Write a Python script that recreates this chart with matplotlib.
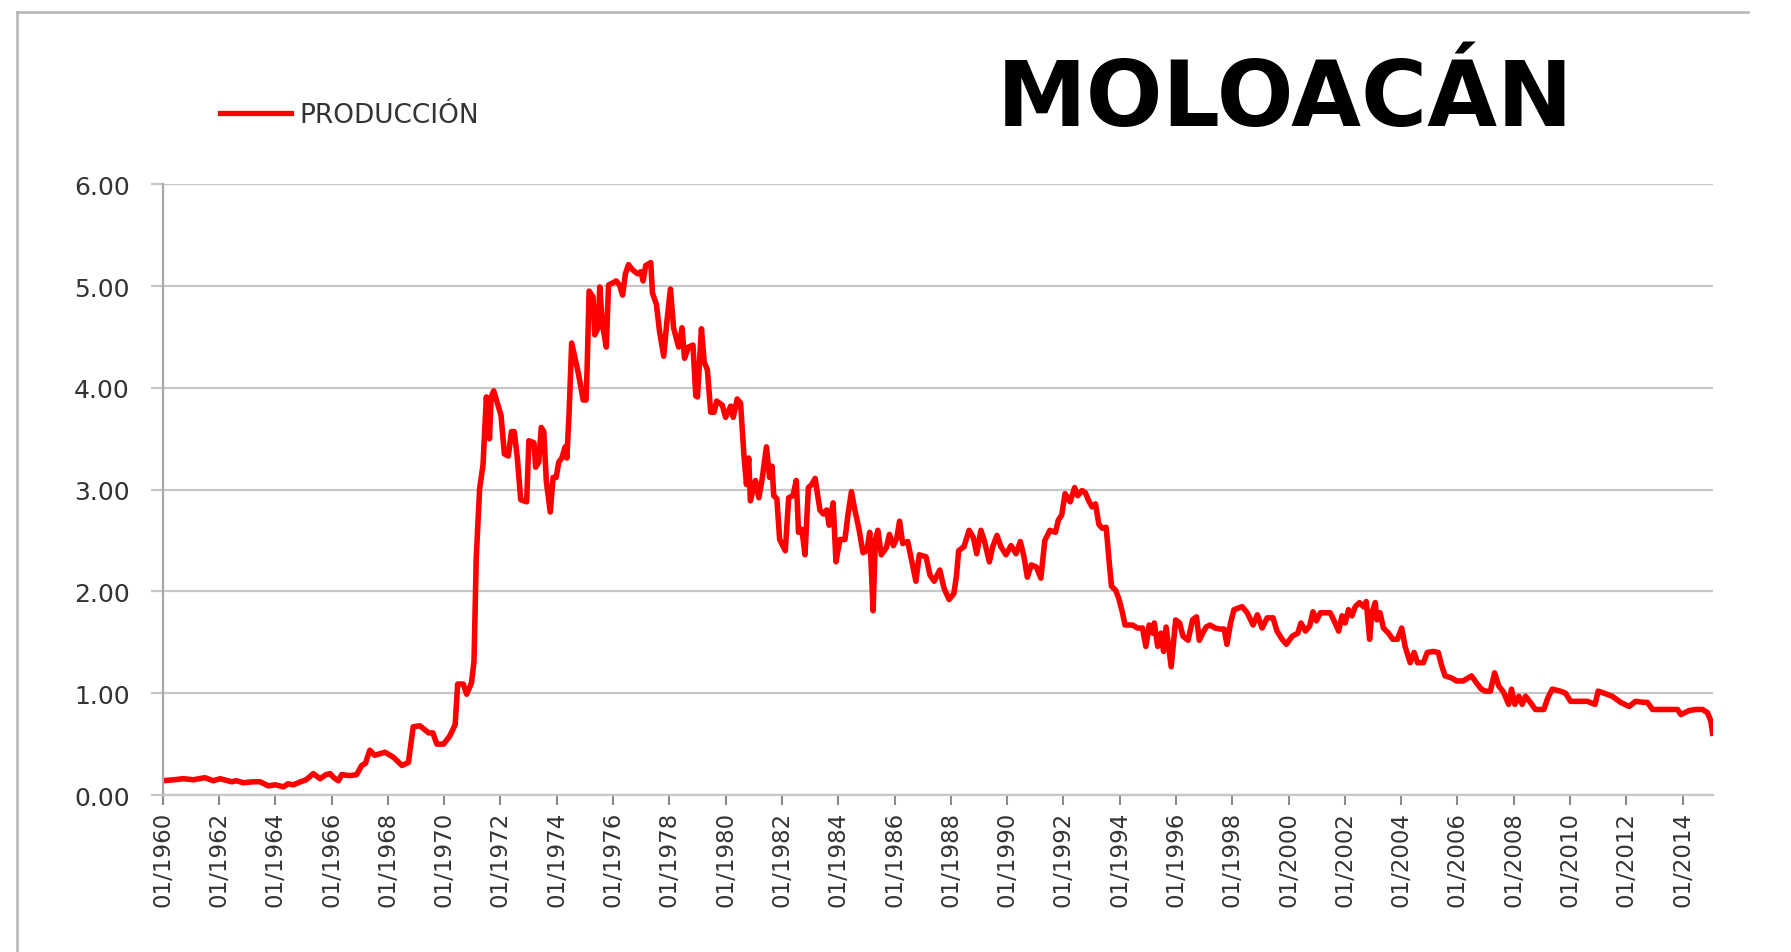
import matplotlib
matplotlib.use("Agg")
import matplotlib.pyplot as plt
from matplotlib.lines import Line2D

# ---------------- data ----------------
fecha = [
    1960.00, 1960.40, 1960.73, 1961.09, 1961.50, 1961.80, 1962.04, 1962.45, 1962.62, 1962.87,
    1963.22, 1963.46, 1963.75, 1964.00, 1964.29, 1964.45, 1964.64, 1964.90, 1965.10, 1965.35,
    1965.59, 1965.80, 1965.95, 1966.08, 1966.24, 1966.36, 1966.65, 1966.89, 1967.07, 1967.20,
    1967.36, 1967.53, 1967.90, 1968.20, 1968.50, 1968.73, 1968.90, 1969.14, 1969.45, 1969.60,
    1969.74, 1969.98, 1970.20, 1970.39, 1970.48, 1970.68, 1970.80, 1970.97, 1971.06, 1971.14,
    1971.26, 1971.38, 1971.50, 1971.61, 1971.67, 1971.76, 1971.90, 1972.02, 1972.14, 1972.28,
    1972.39, 1972.49, 1972.60, 1972.72, 1972.93, 1973.01, 1973.19, 1973.25, 1973.36, 1973.45,
    1973.54, 1973.63, 1973.77, 1973.87, 1973.98, 1974.07, 1974.18, 1974.30, 1974.36, 1974.44,
    1974.53, 1974.65, 1974.77, 1974.94, 1975.04, 1975.08, 1975.15, 1975.29, 1975.35, 1975.47,
    1975.53, 1975.62, 1975.76, 1975.84, 1975.99, 1976.11, 1976.23, 1976.34, 1976.44, 1976.55,
    1976.69, 1976.87, 1976.99, 1977.07, 1977.16, 1977.34, 1977.40, 1977.54, 1977.65, 1977.80,
    1977.92, 1978.04, 1978.15, 1978.33, 1978.45, 1978.54, 1978.68, 1978.84, 1978.94, 1979.00,
    1979.14, 1979.24, 1979.35, 1979.47, 1979.59, 1979.68, 1979.88, 1980.00, 1980.18, 1980.27,
    1980.41, 1980.53, 1980.65, 1980.74, 1980.82, 1980.88, 1981.06, 1981.18, 1981.29, 1981.45,
    1981.56, 1981.65, 1981.71, 1981.82, 1981.92, 1982.12, 1982.24, 1982.39, 1982.51, 1982.59,
    1982.71, 1982.82, 1982.94, 1983.06, 1983.18, 1983.35, 1983.47, 1983.59, 1983.68, 1983.82,
    1983.92, 1984.06, 1984.24, 1984.35, 1984.47, 1984.59, 1984.74, 1984.88, 1985.02, 1985.12,
    1985.24, 1985.32, 1985.41, 1985.53, 1985.71, 1985.82, 1985.96, 1986.08, 1986.18, 1986.29,
    1986.47, 1986.62, 1986.76, 1986.88, 1987.12, 1987.26, 1987.41, 1987.61, 1987.76, 1987.94,
    1988.11, 1988.20, 1988.28, 1988.47, 1988.65, 1988.80, 1988.92, 1989.07, 1989.19, 1989.37,
    1989.49, 1989.64, 1989.78, 1989.96, 1990.14, 1990.32, 1990.47, 1990.60, 1990.72, 1990.86,
    1991.04, 1991.20, 1991.34, 1991.52, 1991.72, 1991.82, 1991.94, 1992.06, 1992.24, 1992.40,
    1992.51, 1992.66, 1992.78, 1992.90, 1993.02, 1993.14, 1993.26, 1993.38, 1993.52, 1993.62,
    1993.71, 1993.86, 1993.98, 1994.10, 1994.19, 1994.46, 1994.63, 1994.81, 1994.93, 1995.05,
    1995.17, 1995.23, 1995.35, 1995.47, 1995.56, 1995.65, 1995.83, 1995.99, 1996.13, 1996.25,
    1996.43, 1996.59, 1996.73, 1996.83, 1996.95, 1997.07, 1997.21, 1997.39, 1997.57, 1997.71,
    1997.81, 1997.94, 1998.06, 1998.35, 1998.53, 1998.74, 1998.89, 1999.06, 1999.24, 1999.45,
    1999.59, 1999.77, 1999.92, 2000.13, 2000.33, 2000.44, 2000.60, 2000.75, 2000.87, 2000.99,
    2001.13, 2001.31, 2001.48, 2001.62, 2001.78, 2001.90, 2002.01, 2002.13, 2002.25, 2002.37,
    2002.52, 2002.66, 2002.76, 2002.88, 2002.96, 2003.08, 2003.14, 2003.25, 2003.37, 2003.55,
    2003.70, 2003.87, 2004.02, 2004.14, 2004.32, 2004.46, 2004.58, 2004.79, 2004.93, 2005.14,
    2005.32, 2005.44, 2005.56, 2005.79, 2005.97, 2006.20, 2006.50, 2006.68, 2006.85, 2006.99,
    2007.17, 2007.32, 2007.47, 2007.64, 2007.82, 2007.92, 2008.04, 2008.18, 2008.30, 2008.42,
    2008.59, 2008.77, 2009.07, 2009.22, 2009.37, 2009.66, 2009.84, 2010.02, 2010.32, 2010.62,
    2010.89, 2011.00, 2011.21, 2011.50, 2011.80, 2012.10, 2012.33, 2012.63, 2012.75, 2012.93,
    2013.29, 2013.64, 2013.82, 2013.94, 2014.24, 2014.47, 2014.71, 2014.88, 2015.00, 2015.08,
]

produccion = [
    0.14, 0.15, 0.16, 0.15, 0.17, 0.14, 0.16, 0.13, 0.14, 0.12,
    0.13, 0.13, 0.09, 0.10, 0.08, 0.11, 0.10, 0.13, 0.15, 0.21,
    0.16, 0.20, 0.21, 0.17, 0.14, 0.20, 0.19, 0.20, 0.29, 0.31,
    0.44, 0.39, 0.42, 0.37, 0.29, 0.32, 0.67, 0.68, 0.61, 0.61,
    0.50, 0.50, 0.58, 0.69, 1.09, 1.09, 0.99, 1.10, 1.31, 2.33,
    3.01, 3.24, 3.91, 3.50, 3.91, 3.97, 3.84, 3.73, 3.35, 3.33,
    3.57, 3.57, 3.31, 2.90, 2.88, 3.48, 3.46, 3.22, 3.27, 3.61,
    3.57, 3.08, 2.78, 3.12, 3.12, 3.27, 3.31, 3.42, 3.31, 3.76,
    4.44, 4.29, 4.14, 3.88, 3.88, 4.20, 4.95, 4.89, 4.52, 4.59,
    4.99, 4.63, 4.40, 5.01, 5.03, 5.05, 5.01, 4.91, 5.12, 5.21,
    5.16, 5.12, 5.14, 5.05, 5.20, 5.23, 4.93, 4.82, 4.56, 4.31,
    4.67, 4.97, 4.59, 4.40, 4.59, 4.29, 4.40, 4.42, 3.92, 3.91,
    4.58, 4.25, 4.18, 3.76, 3.76, 3.87, 3.83, 3.71, 3.82, 3.71,
    3.89, 3.85, 3.34, 3.05, 3.31, 2.89, 3.09, 2.92, 3.09, 3.42,
    3.12, 3.23, 2.94, 2.91, 2.51, 2.40, 2.92, 2.94, 3.09, 2.58,
    2.61, 2.36, 3.02, 3.05, 3.11, 2.80, 2.76, 2.80, 2.65, 2.87,
    2.29, 2.51, 2.51, 2.76, 2.98, 2.80, 2.61, 2.38, 2.40, 2.58,
    1.81, 2.51, 2.60, 2.36, 2.43, 2.56, 2.45, 2.52, 2.69, 2.47,
    2.49, 2.29, 2.10, 2.36, 2.34, 2.16, 2.10, 2.21, 2.03, 1.92,
    1.98, 2.15, 2.40, 2.44, 2.60, 2.53, 2.37, 2.60, 2.50, 2.29,
    2.44, 2.55, 2.44, 2.36, 2.45, 2.37, 2.49, 2.34, 2.14, 2.26,
    2.24, 2.13, 2.50, 2.60, 2.58, 2.70, 2.75, 2.96, 2.88, 3.02,
    2.94, 2.99, 2.97, 2.89, 2.83, 2.86, 2.66, 2.62, 2.63, 2.31,
    2.05, 2.01, 1.92, 1.79, 1.67, 1.67, 1.64, 1.64, 1.46, 1.67,
    1.59, 1.69, 1.46, 1.59, 1.41, 1.65, 1.26, 1.72, 1.69, 1.56,
    1.52, 1.72, 1.75, 1.52, 1.59, 1.65, 1.67, 1.64, 1.63, 1.63,
    1.48, 1.69, 1.82, 1.85, 1.79, 1.67, 1.77, 1.64, 1.74, 1.74,
    1.61, 1.53, 1.48, 1.56, 1.59, 1.69, 1.61, 1.66, 1.80, 1.71,
    1.79, 1.79, 1.79, 1.71, 1.61, 1.76, 1.69, 1.82, 1.76, 1.85,
    1.89, 1.85, 1.90, 1.53, 1.79, 1.89, 1.72, 1.79, 1.64, 1.59,
    1.53, 1.53, 1.64, 1.46, 1.30, 1.40, 1.30, 1.30, 1.40, 1.41,
    1.40, 1.27, 1.17, 1.15, 1.12, 1.12, 1.17, 1.10, 1.04, 1.02,
    1.02, 1.20, 1.07, 1.01, 0.89, 1.04, 0.89, 0.97, 0.89, 0.97,
    0.91, 0.84, 0.84, 0.96, 1.04, 1.02, 1.00, 0.92, 0.92, 0.92,
    0.89, 1.02, 1.00, 0.97, 0.91, 0.87, 0.92, 0.91, 0.91, 0.84,
    0.84, 0.84, 0.84, 0.79, 0.83, 0.84, 0.84, 0.81, 0.73, 0.58,
]

anios_ticks = list(range(1960, 2015, 2))
etiquetas_x = [f"01/{a}" for a in anios_ticks]
valores_y = [0, 1, 2, 3, 4, 5, 6]
etiquetas_y = [f"{v:.2f}" for v in valores_y]
titulo = "MOLOACÁN"
serie = "PRODUCCIÓN"

# ---------------- figure ----------------
W, H = 1791, 953
fig = plt.figure(figsize=(W / 100, H / 100), dpi=100)
fig.patch.set_facecolor("white")

x0, x1 = 162.7, 1713.0
y0, y1 = 796.0, 185.2
ax = fig.add_axes([x0 / W, 1 - y0 / H, (x1 - x0) / W, (y0 - y1) / H])

ax.plot(fecha, produccion, color="#ff0000", lw=4.0,
        solid_joinstyle="round", solid_capstyle="butt", label=serie)

ax.set_xlim(1960, 2015.08)
ax.set_ylim(0, 6)
ax.set_yticks(valores_y)
ax.set_yticklabels(etiquetas_y)
ax.set_xticks(anios_ticks)
ax.set_xticklabels(etiquetas_x, rotation=90)

grid_c = "#c6c6c6"
ax.grid(axis="y", color=grid_c, lw=1.6)
ax.set_axisbelow(True)
for s in ["top", "right"]:
    ax.spines[s].set_visible(False)
ax.spines["left"].set_color("#a8a8a8")
ax.spines["left"].set_linewidth(1.6)
ax.spines["bottom"].set_color(grid_c)
ax.spines["bottom"].set_linewidth(1.6)

ax.tick_params(axis="y", direction="out", length=8.6, width=1.6, color=grid_c,
               pad=15, labelsize=18, labelcolor="#333333")
ax.tick_params(axis="x", direction="out", length=7.5, width=1.5, color="#8a8a8a",
               pad=4, labelsize=16.5, labelcolor="#333333")

# legend
fig.legend(handles=[Line2D([], [], color="#ff0000", lw=3.8)], labels=[serie],
           loc="center left", bbox_to_anchor=(220 / W, 1 - 116 / H),
           frameon=False, fontsize=19, handlelength=2.7, handletextpad=0.3,
           borderpad=0, borderaxespad=0, labelcolor="#333333")

# title
fig.text(1285 / W, 1 - 126 / H, titulo, ha="center", va="baseline",
         fontsize=65, fontweight="bold", color="#000000")

# outer chart border (top and left visible in the crop)
border_c = "#b4b4b4"
fig.add_artist(Line2D([17 / W, 1748 / W], [1 - 13 / H, 1 - 13 / H],
                      transform=fig.transFigure, color=border_c, lw=1.8))
fig.add_artist(Line2D([17 / W, 17 / W], [1 - 13 / H, 0],
                      transform=fig.transFigure, color=border_c, lw=1.8))

fig.savefig("out.png", dpi=100)
